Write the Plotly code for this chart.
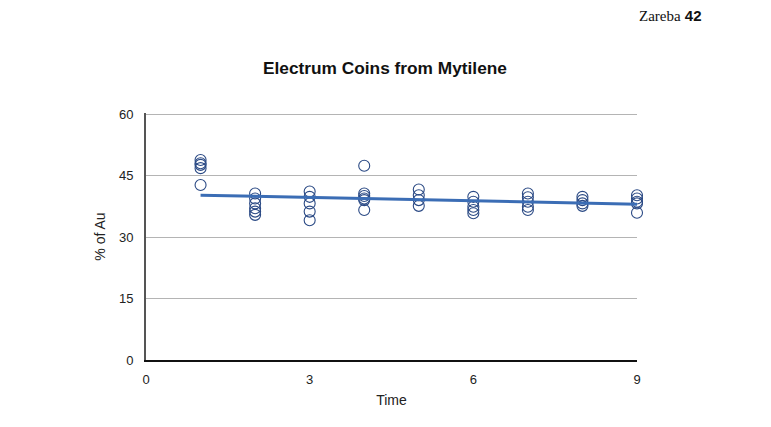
import plotly.graph_objects as go

# measured points, grouped by time step
time = [1, 1, 1, 1, 1,
        2, 2, 2, 2, 2, 2,
        3, 3, 3, 3, 3,
        4, 4, 4, 4, 4, 4,
        5, 5, 5, 5,
        6, 6, 6, 6, 6,
        7, 7, 7, 7, 7,
        8, 8, 8, 8,
        9, 9, 9, 9, 9]
gold_pct = [48.8, 48.0, 47.6, 46.8, 42.7,
            40.6, 39.4, 38.2, 37.0, 36.2, 35.4,
            41.1, 39.8, 38.2, 36.2, 34.1,
            47.4, 40.6, 40.0, 39.4, 39.0, 36.6,
            41.6, 40.2, 39.0, 37.6,
            39.8, 38.6, 37.4, 36.6, 35.8,
            40.6, 39.7, 38.6, 37.4, 36.6,
            39.8, 39.0, 38.2, 37.6,
            40.2, 39.4, 38.6, 38.2, 35.9]

# trendline end points
trend_x = [1, 9]
trend_y = [40.2, 38.0]

x_ticks = [0, 3, 6, 9]
y_ticks = [0, 15, 30, 45, 60]

fig = go.Figure()

fig.add_trace(go.Scatter(
    x=time, y=gold_pct,
    mode='markers',
    marker=dict(size=11, color='rgba(0,0,0,0)',
                line=dict(color='#2b4a85', width=1.1)),
    cliponaxis=False,
    showlegend=False
))

fig.add_trace(go.Scatter(
    x=trend_x, y=trend_y,
    mode='lines',
    line=dict(color='#3b6db5', width=3),
    cliponaxis=False,
    showlegend=False
))

# page body adds an 8px offset, so margins are shifted to match
fig.update_layout(
    width=755, height=411,
    margin=dict(l=138, r=126, t=105, b=59),
    paper_bgcolor='white', plot_bgcolor='white',
    font=dict(family='Liberation Sans, Arial', color='#222222', size=13),
    showlegend=False,
    xaxis=dict(
        range=[0, 9], tickvals=x_ticks, showgrid=False, zeroline=False,
        showline=True, linecolor='#111111', linewidth=2,
        ticks='', ticklabelstandoff=6,
        title=dict(text='Time', font=dict(size=14), standoff=10)
    ),
    yaxis=dict(
        # a little headroom so the 60 gridline is drawn
        range=[0, 60.25], tickvals=y_ticks, showgrid=True, gridcolor='#b4b4b4',
        gridwidth=1, zeroline=False,
        showline=True, linecolor='#555555', linewidth=2,
        ticks='', ticklabelstandoff=8,
        title=dict(text='% of Au', font=dict(size=14), standoff=10)
    ),
    annotations=[
        dict(text='<b>Electrum Coins from Mytilene</b>', xref='paper', yref='paper',
             x=(385 - 146) / 491, y=1 + 45 / 247, xanchor='center', yanchor='middle',
             showarrow=False, font=dict(size=17.3, color='#111111')),
        dict(text="<span style=\"font-family:'Liberation Serif'\">Zareba</span> <b>42</b>",
             xref='paper', yref='paper', x=(704 - 146) / 491, y=1 + 98 / 247,
             xanchor='right', yanchor='middle', showarrow=False,
             font=dict(size=15, color='#111111')),
    ]
)

fig.write_html("out.html")
